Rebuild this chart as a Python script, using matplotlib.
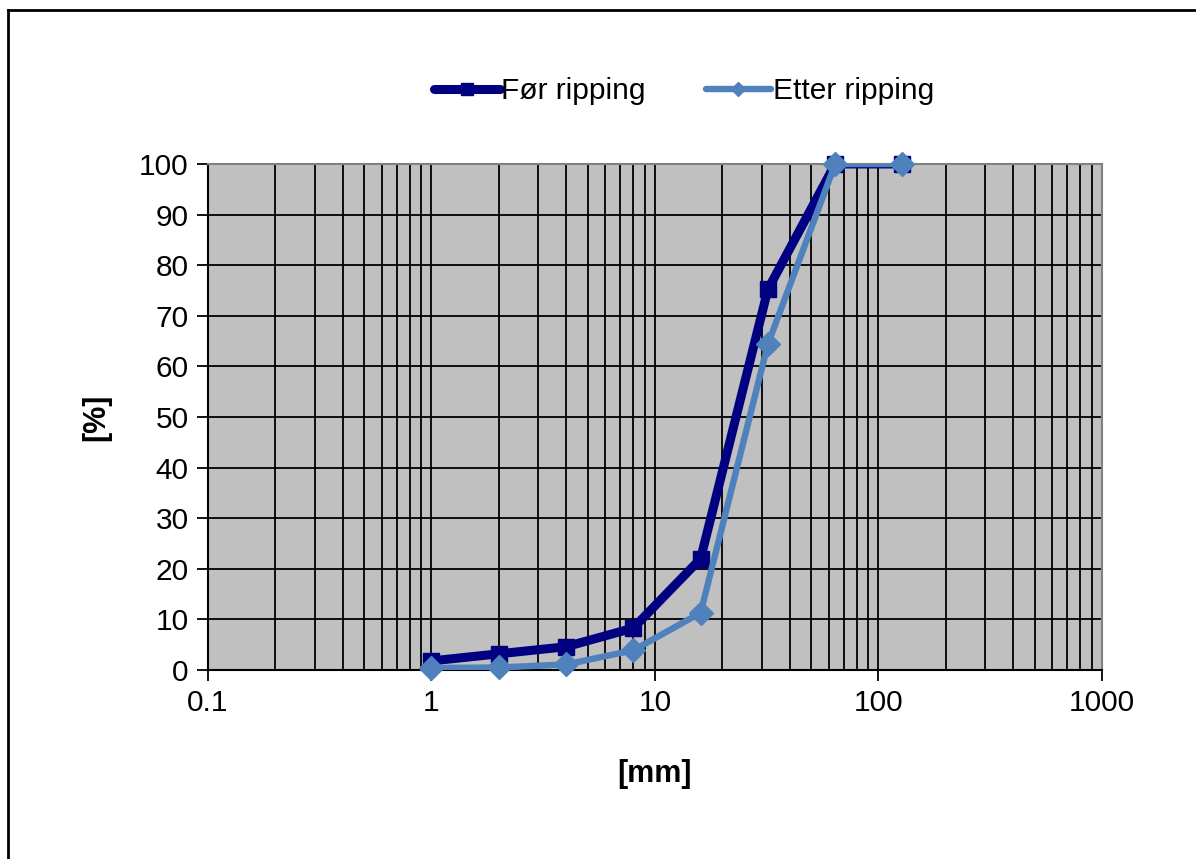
import matplotlib
matplotlib.use("Agg")
from matplotlib import pyplot as plt
from matplotlib.lines import Line2D
from matplotlib.ticker import LogLocator, FixedLocator, NullFormatter

plt.rcParams['font.family'] = ['Liberation Sans', 'DejaVu Sans']

# sieve sizes [mm] and passing [%]
sizes = [1, 2, 4, 8, 16, 32, 64, 128]
for_ripping = [1.8, 3.2, 4.6, 8.3, 22.0, 75.2, 100, 100]
etter_ripping = [0.4, 0.5, 1.1, 3.9, 11.3, 64.4, 100, 100]
labels = ['Før ripping', 'Etter ripping']
x_ticks = [0.1, 1, 10, 100, 1000]
x_ticklabels = ['0.1', '1', '10', '100', '1000']
y_ticks = list(range(0, 101, 10))

dark = '#000080'
light = '#4f81bd'

fig = plt.figure(figsize=(11.96, 8.59), dpi=100)
ax = fig.add_axes([0.1739, 0.22, 0.9214 - 0.1739, 0.8091 - 0.22])

ax.set_facecolor('#c0c0c0')
ax.set_xscale('log')
ax.set_xlim(0.1, 1000)
ax.set_ylim(0, 100)

# lines (clipped) then markers (not clipped, like excel)
ax.plot(sizes, for_ripping, color=dark, lw=6.5, solid_capstyle='round', zorder=3)
ax.plot(sizes, for_ripping, color=dark, lw=0, marker='s', ms=11, clip_on=False, zorder=4)
ax.plot(sizes, etter_ripping, color=light, lw=4.6, solid_capstyle='round', zorder=5)
ax.plot(sizes, etter_ripping, color=light, lw=0, marker='D', ms=12, clip_on=False, zorder=6)

# grid
ax.xaxis.set_major_locator(FixedLocator(x_ticks))
ax.xaxis.set_minor_locator(LogLocator(base=10, subs=range(2, 10)))
ax.xaxis.set_minor_formatter(NullFormatter())
ax.set_xticklabels(x_ticklabels)
ax.set_yticks(y_ticks)
ax.grid(True, which='both', axis='x', color='black', lw=1.3)
ax.grid(True, which='major', axis='y', color='black', lw=1.3)
ax.set_axisbelow(True)

ax.tick_params(axis='both', which='major', labelsize=21.5, length=8, width=1.3,
               direction='out', color='black', pad=6)
ax.tick_params(axis='x', which='minor', length=0)

for side in ['top', 'right']:
    ax.spines[side].set_color('#808080')
    ax.spines[side].set_linewidth(1.5)
for side in ['left', 'bottom']:
    ax.spines[side].set_color('black')
    ax.spines[side].set_linewidth(1.5)

ax.set_xlabel('[mm]', fontsize=22, fontweight='bold', labelpad=30)
ax.set_ylabel('[%]', fontsize=22, fontweight='bold', labelpad=20)

handles = [
    Line2D([], [], color=dark, lw=6.5, marker='s', ms=9, solid_capstyle='round'),
    Line2D([], [], color=light, lw=4.6, marker='D', ms=7, solid_capstyle='round'),
]
fig.legend(handles, labels, loc='center', bbox_to_anchor=(0.572, 0.894), ncol=2,
           frameon=False, fontsize=21.5, handlelength=2.2, handletextpad=0.05,
           columnspacing=2.0)

# outer frame like the source screenshot
fig.add_artist(Line2D([8 / 1196, 8 / 1196], [0, 1 - 10 / 859], color='black', lw=2,
                      transform=fig.transFigure))
fig.add_artist(Line2D([8 / 1196, 1], [1 - 10 / 859, 1 - 10 / 859], color='black', lw=2,
                      transform=fig.transFigure))

fig.savefig('out.png', dpi=100)
